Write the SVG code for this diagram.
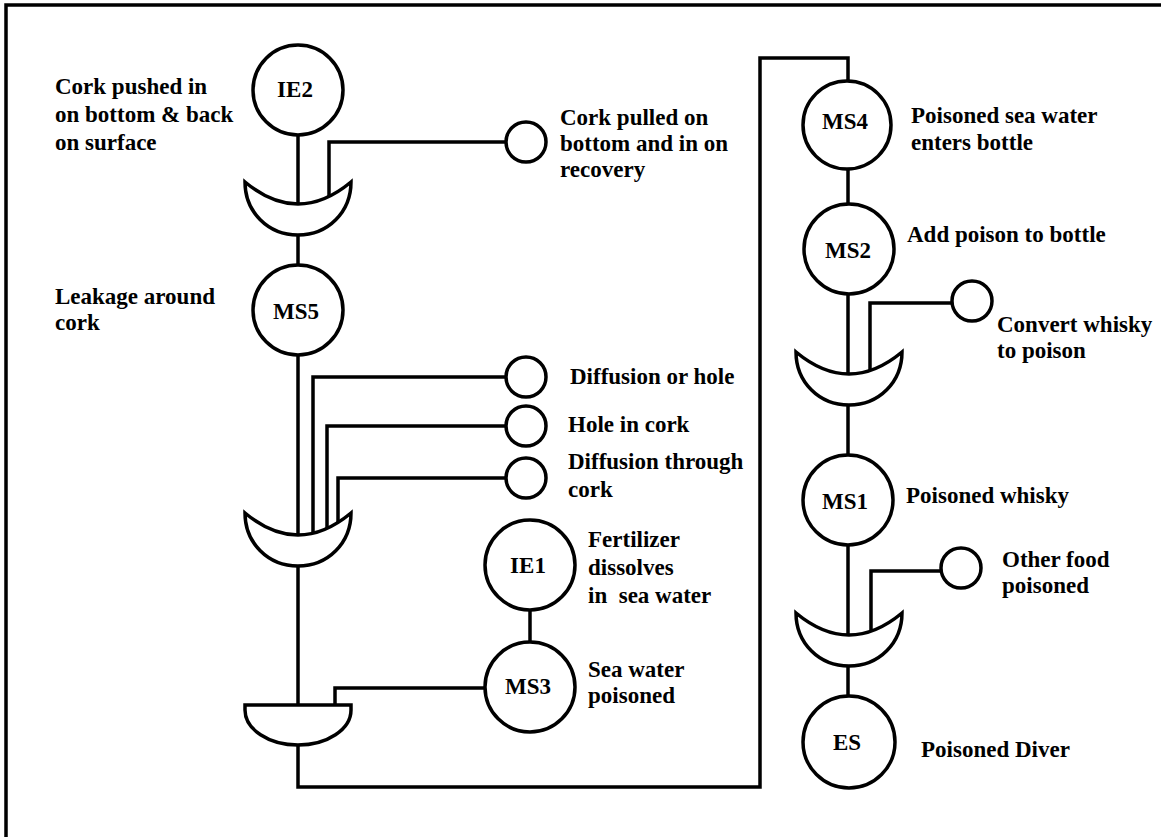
<svg xmlns="http://www.w3.org/2000/svg" width="1161" height="837" viewBox="0 0 1161 837">
<style>
.ln{fill:none;stroke:#000;stroke-width:3.5}
.nd{fill:#fff;stroke:#000;stroke-width:3.5}
.gt{fill:#fff;stroke:#000;stroke-width:3.5;stroke-linejoin:miter}
.t{font-family:"Liberation Serif","Times New Roman",serif;font-weight:bold;font-size:23px;fill:#000}
.c{text-anchor:middle}
</style>
<rect width="1161" height="837" fill="#fff"/>
<path class="ln" d="M6,837 V5 H1161" stroke-width="3"/>
<g id="connectors">
<path class="ln" d="M298,135 V208"/>
<path class="ln" d="M298,234 V266"/>
<path class="ln" d="M506,142 H329 V200"/>
<path class="ln" d="M298,355 V540"/>
<path class="ln" d="M506,377 H313 V538"/>
<path class="ln" d="M506,426 H327 V534"/>
<path class="ln" d="M506,478 H338 V528"/>
<path class="ln" d="M298,565 V706"/>
<path class="ln" d="M484,688 H335 V706"/>
<path class="ln" d="M530,610 V642"/>
<path class="ln" d="M298,745 V787 H760 V58 H848 V82"/>
<path class="ln" d="M848,167 V205"/>
<path class="ln" d="M848,293 V378"/>
<path class="ln" d="M952,303 H870 V376"/>
<path class="ln" d="M848,404 V456"/>
<path class="ln" d="M848,544 V640"/>
<path class="ln" d="M941,571 H871 V636"/>
<path class="ln" d="M848,665 V697"/>
</g>
<g id="gate-or1"><path class="gt" d="M245,182 Q298,226 351,182 C351,212 328,235 298,235 C268,235 245,212 245,182 Z"/></g>
<g id="gate-or2"><path class="gt" d="M245,513 Q298,557 351,513 C351,543 328,566 298,566 C268,566 245,543 245,513 Z"/></g>
<g id="gate-and"><path class="gt" d="M245,705 H351 V710 A53,35 0 0 1 245,710 Z"/></g>
<g id="gate-or3"><path class="gt" d="M796,352 Q849,396 902,352 C902,382 879,405 849,405 C819,405 796,382 796,352 Z"/></g>
<g id="gate-or4"><path class="gt" d="M796,613 Q849,657 902,613 C902,643 879,666 849,666 C819,666 796,643 796,613 Z"/></g>
<g id="IE2"><circle class="nd" cx="298" cy="90" r="45"/><text class="t c" x="295" y="97">IE2</text>
<text class="t" x="55" y="94">Cork pushed in</text><text class="t" x="55" y="122">on bottom &amp; back</text><text class="t" x="55" y="150">on surface</text></g>
<g id="B1"><circle class="nd" cx="526" cy="142" r="20"/>
<text class="t" x="560" y="125">Cork pulled on</text><text class="t" x="560" y="151">bottom and in on</text><text class="t" x="560" y="177">recovery</text></g>
<g id="MS5"><circle class="nd" cx="298" cy="310" r="45"/><text class="t c" x="296" y="319">MS5</text>
<text class="t" x="55" y="304">Leakage around</text><text class="t" x="55" y="330">cork</text></g>
<g id="B2"><circle class="nd" cx="526" cy="377" r="20"/><text class="t" x="570" y="384">Diffusion or hole</text></g>
<g id="B3"><circle class="nd" cx="526" cy="426" r="20"/><text class="t" x="568" y="432">Hole in cork</text></g>
<g id="B4"><circle class="nd" cx="526" cy="478" r="20"/><text class="t" x="568" y="469">Diffusion through</text><text class="t" x="568" y="497">cork</text></g>
<g id="IE1"><circle class="nd" cx="530" cy="565" r="45"/><text class="t c" x="528" y="573">IE1</text>
<text class="t" x="588" y="547">Fertilizer</text><text class="t" x="588" y="575">dissolves</text><text class="t" x="588" y="603" xml:space="preserve">in  sea water</text></g>
<g id="MS3"><circle class="nd" cx="530" cy="687" r="45"/><text class="t c" x="528" y="694">MS3</text>
<text class="t" x="588" y="677">Sea water</text><text class="t" x="588" y="703">poisoned</text></g>
<g id="MS4"><circle class="nd" cx="847" cy="125" r="44"/><text class="t c" x="845" y="129">MS4</text>
<text class="t" x="911" y="123">Poisoned sea water</text><text class="t" x="911" y="150">enters bottle</text></g>
<g id="MS2"><circle class="nd" cx="849" cy="249" r="45"/><text class="t c" x="848" y="258">MS2</text>
<text class="t" x="907" y="242">Add poison to bottle</text></g>
<g id="B5"><circle class="nd" cx="972" cy="301" r="20"/><text class="t" x="997" y="332">Convert whisky</text><text class="t" x="997" y="358">to poison</text></g>
<g id="MS1"><circle class="nd" cx="848" cy="500" r="45"/><text class="t c" x="845" y="509">MS1</text>
<text class="t" x="906" y="503">Poisoned whisky</text></g>
<g id="B6"><circle class="nd" cx="961" cy="568" r="20"/><text class="t" x="1002" y="567">Other food</text><text class="t" x="1002" y="593">poisoned</text></g>
<g id="ES"><circle class="nd" cx="849" cy="742" r="46"/><text class="t c" x="847" y="750">ES</text>
<text class="t" x="921" y="757">Poisoned Diver</text></g>
</svg>
